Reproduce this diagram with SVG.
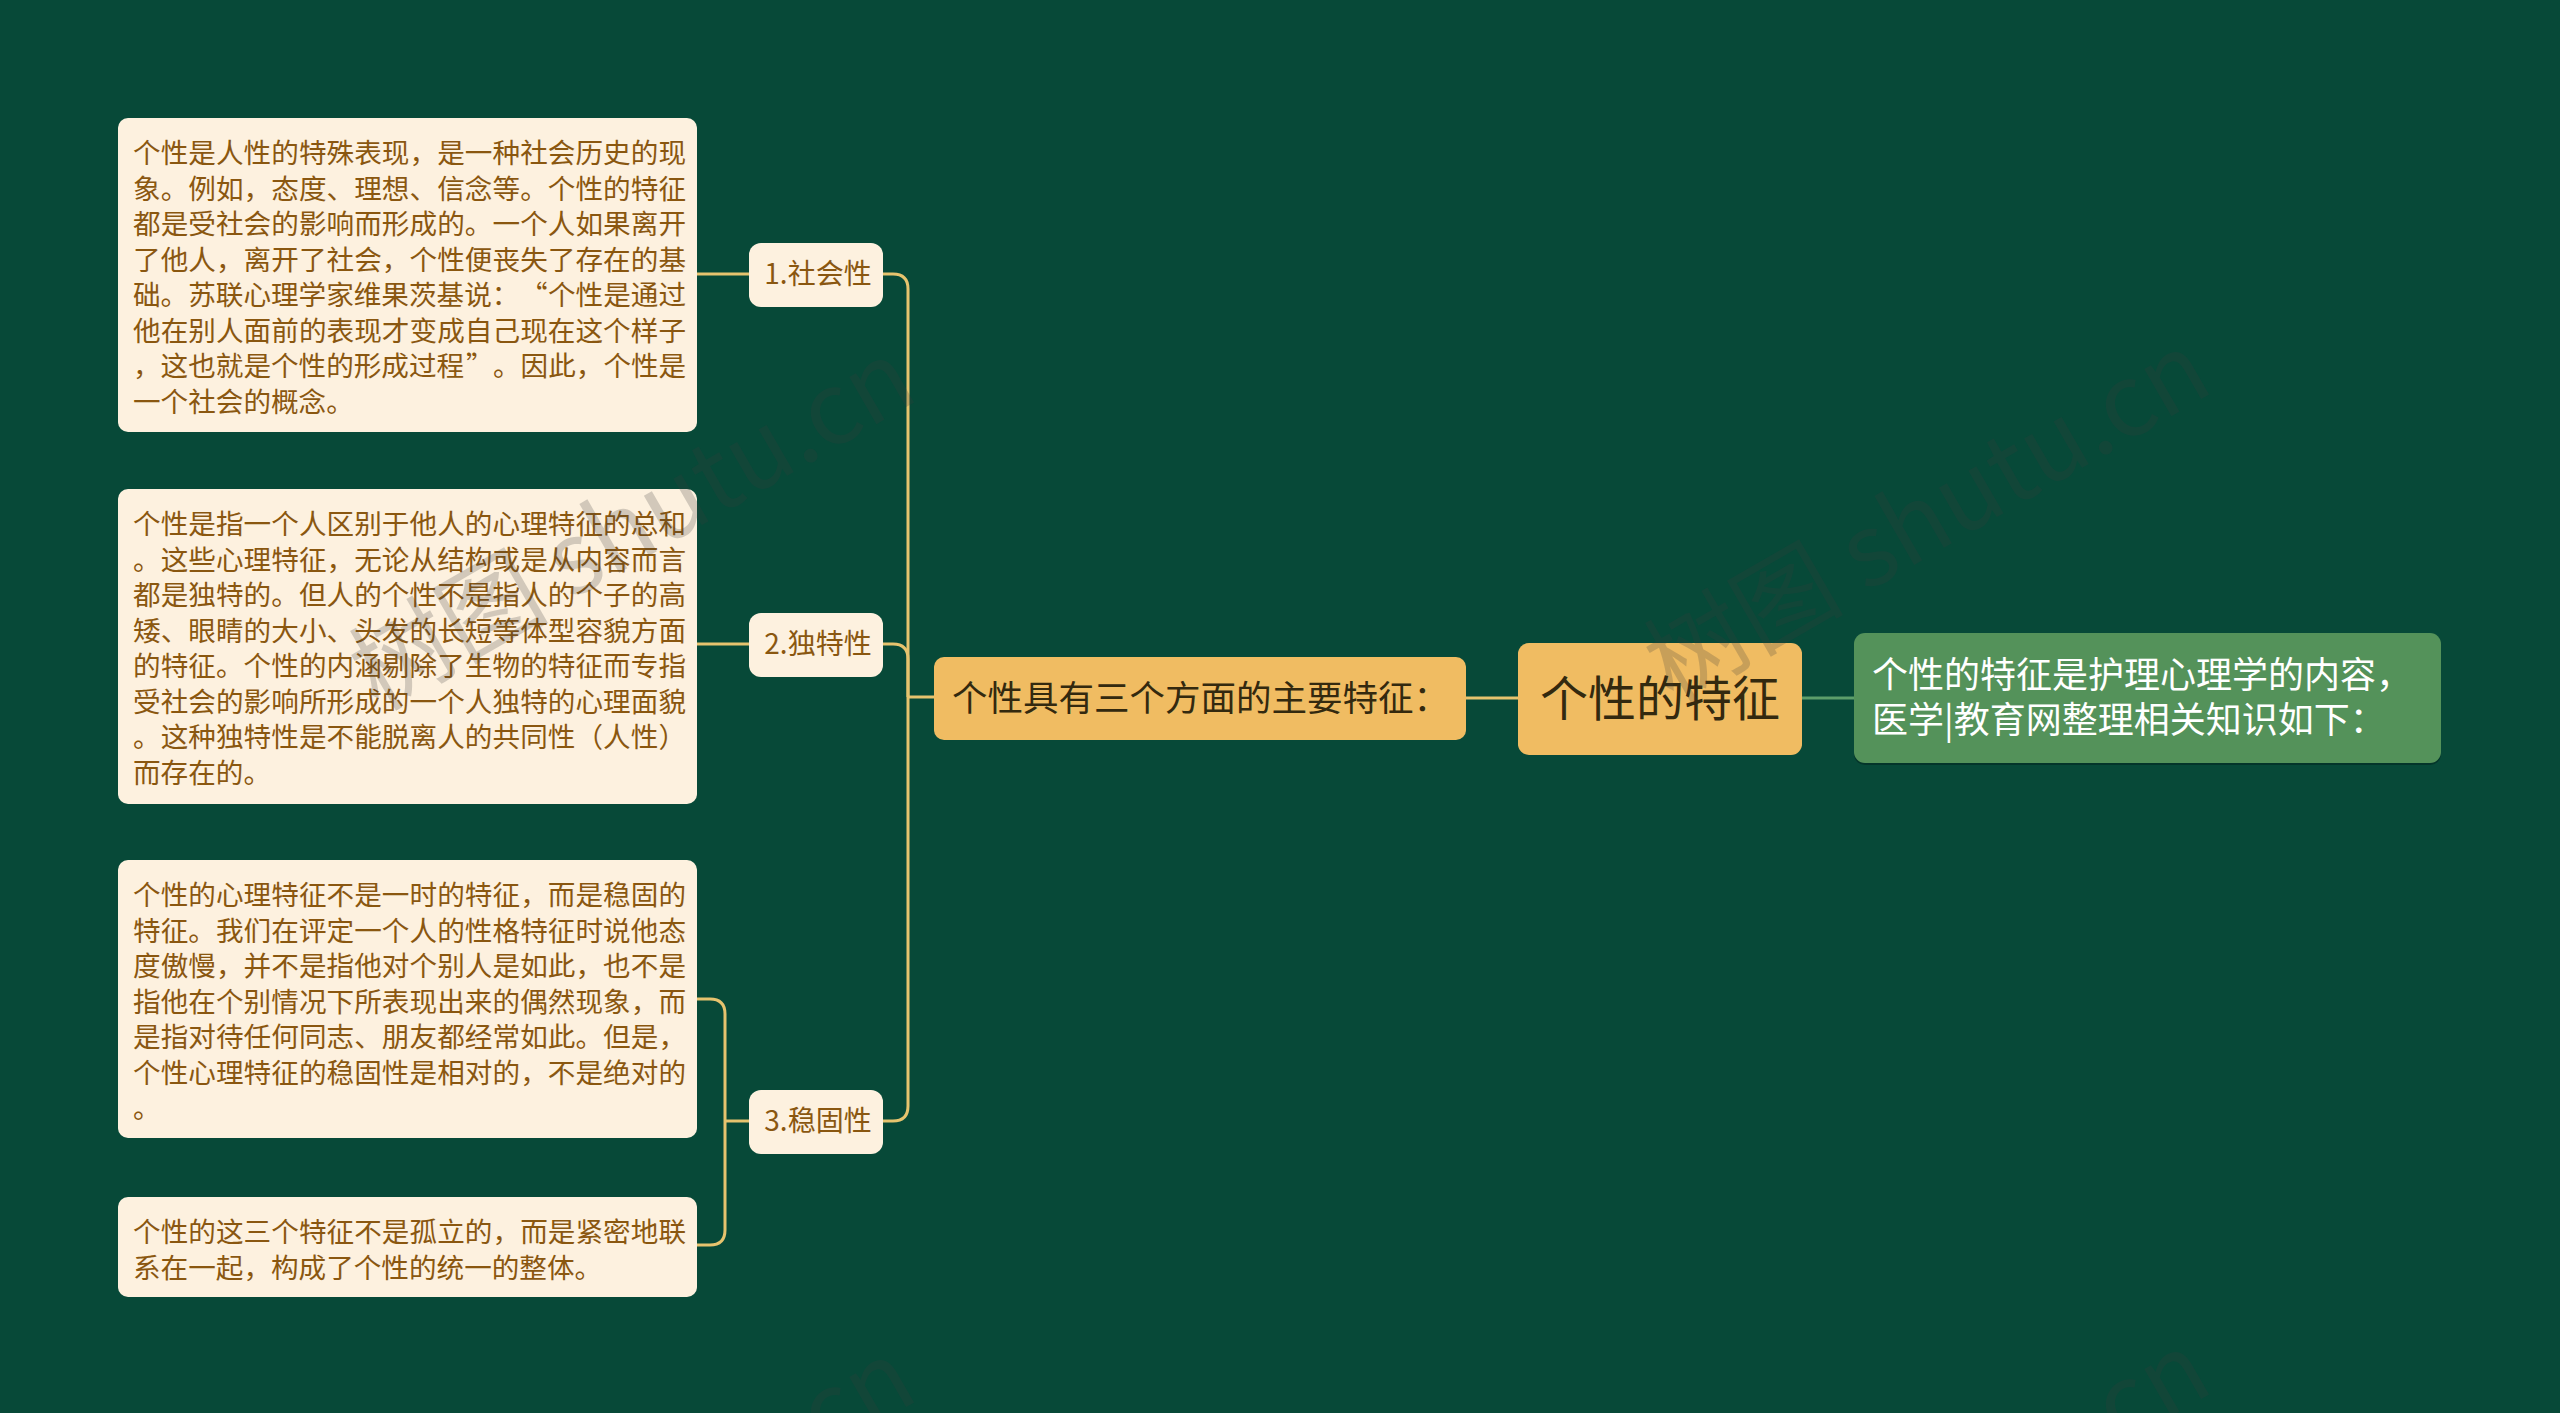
<svg xmlns="http://www.w3.org/2000/svg" width="2560" height="1413" viewBox="0 0 2560 1413">
<defs>
<style>
.bg{fill:#074938}
.leaf rect{fill:#fdf1df}
.leaf text{font-family:"Noto Sans CJK SC","Noto Sans",sans-serif;font-size:27.6px;fill:#8a5710}
.lbl rect{fill:#fdf1df}
.lbl text{font-family:"Noto Sans CJK SC","Noto Sans",sans-serif;font-size:28px;fill:#8a5710;text-anchor:middle}
.sh{fill:#04352a}
.gold rect{fill:#f0bc62}
.dark{font-family:"Noto Sans CJK SC","Noto Sans",sans-serif;fill:#33290f}
.conn path{fill:none;stroke:#e6c36e;stroke-width:3}
.conn path.g{stroke:#5c9e6a}
.wm{font-family:"Noto Sans CJK SC","Noto Sans",sans-serif;font-size:100px;fill:#3c3c3c;opacity:0.22}
</style>
</defs>
<rect class="bg" x="0" y="0" width="2560" height="1413"/>

<g id="connectors" class="conn">
<path d="M1518 698 H1466"/>
<path class="g" d="M1802 698 H1854"/>
<path d="M934 697 H908"/>
<path d="M908 697 V289 Q908 274 893 274 H883"/>
<path d="M908 697 V659 Q908 644 893 644 H883"/>
<path d="M908 697 V1106 Q908 1121 893 1121 H883"/>
<path d="M749 274 H697"/>
<path d="M749 644 H697"/>
<path d="M749 1121 H725"/>
<path d="M725 1121 V1014 Q725 999 710 999 H697"/>
<path d="M725 1121 V1230 Q725 1245 710 1245 H697"/>
</g>

<g id="root" class="gold">
<rect class="sh" x="1518" y="645" width="284" height="110" rx="11"/>
<rect x="1518" y="643" width="284" height="110" rx="11"/>
<text class="dark" x="1660" y="716" font-size="48" text-anchor="middle">个性的特征</text>
</g>

<g id="intro">
<rect class="sh" x="1854" y="635" width="587" height="130" rx="11"/>
<rect x="1854" y="633" width="587" height="130" rx="11" fill="#54925a"/>
<text x="1872" y="688" font-family="Noto Sans CJK SC, Noto Sans, sans-serif" font-size="36" fill="#ffffff">个性的特征是护理心理学的内容，</text>
<text x="1872" y="733" font-family="Noto Sans CJK SC, Noto Sans, sans-serif" font-size="36" fill="#ffffff">医学|教育网整理相关知识如下：</text>
</g>

<g id="main" class="gold">
<rect class="sh" x="934" y="659" width="532" height="81" rx="10"/>
<rect x="934" y="657" width="532" height="81" rx="10"/>
<text class="dark" x="952" y="711" font-size="35.5">个性具有三个方面的主要特征：</text>
</g>

<g id="label1" class="lbl">
<rect class="sh" x="749" y="245" width="134" height="62" rx="12"/>
<rect x="749" y="243" width="134" height="62" rx="12"/>
<text x="818" y="284">1.社会性</text>
</g>
<g id="label2" class="lbl">
<rect class="sh" x="749" y="615" width="134" height="62" rx="12"/>
<rect x="749" y="613" width="134" height="62" rx="12"/>
<text x="818" y="654">2.独特性</text>
</g>
<g id="label3" class="lbl">
<rect class="sh" x="749" y="1092" width="134" height="62" rx="12"/>
<rect x="749" y="1090" width="134" height="62" rx="12"/>
<text x="818" y="1131">3.稳固性</text>
</g>

<g id="leaf1" class="leaf">
<rect class="sh" x="118" y="120" width="579" height="312" rx="10"/>
<rect x="118" y="118" width="579" height="312" rx="10"/>
<text x="133" y="163" textLength="553">个性是人性的特殊表现，是一种社会历史的现</text>
<text x="133" y="198.5" textLength="553">象。例如，态度、理想、信念等。个性的特征</text>
<text x="133" y="234" textLength="553">都是受社会的影响而形成的。一个人如果离开</text>
<text x="133" y="269.5" textLength="553">了他人，离开了社会，个性便丧失了存在的基</text>
<text x="133" y="305"><tspan x="133">础。苏联心理学家维果茨基说：</tspan><tspan x="520">“</tspan><tspan x="548">个性是通过</tspan></text>
<text x="133" y="340.5" textLength="553">他在别人面前的表现才变成自己现在这个样子</text>
<text x="133" y="376"><tspan x="133">，这也就是个性的形成过程</tspan><tspan x="466">”</tspan><tspan x="493">。因此，个性是</tspan></text>
<text x="133" y="411.5">一个社会的概念。</text>
</g>

<g id="leaf2" class="leaf">
<rect class="sh" x="118" y="491" width="579" height="313" rx="10"/>
<rect x="118" y="489" width="579" height="313" rx="10"/>
<text x="133" y="534" textLength="553">个性是指一个人区别于他人的心理特征的总和</text>
<text x="133" y="569.5" textLength="553">。这些心理特征，无论从结构或是从内容而言</text>
<text x="133" y="605" textLength="553">都是独特的。但人的个性不是指人的个子的高</text>
<text x="133" y="640.5" textLength="553">矮、眼睛的大小、头发的长短等体型容貌方面</text>
<text x="133" y="676" textLength="553">的特征。个性的内涵剔除了生物的特征而专指</text>
<text x="133" y="711.5" textLength="553">受社会的影响所形成的一个人独特的心理面貌</text>
<text x="133" y="747" textLength="553">。这种独特性是不能脱离人的共同性（人性）</text>
<text x="133" y="782.5">而存在的。</text>
</g>

<g id="leaf3" class="leaf">
<rect class="sh" x="118" y="862" width="579" height="276" rx="10"/>
<rect x="118" y="860" width="579" height="276" rx="10"/>
<text x="133" y="905" textLength="553">个性的心理特征不是一时的特征，而是稳固的</text>
<text x="133" y="940.5" textLength="553">特征。我们在评定一个人的性格特征时说他态</text>
<text x="133" y="976" textLength="553">度傲慢，并不是指他对个别人是如此，也不是</text>
<text x="133" y="1011.5" textLength="553">指他在个别情况下所表现出来的偶然现象，而</text>
<text x="133" y="1047" textLength="553">是指对待任何同志、朋友都经常如此。但是，</text>
<text x="133" y="1082.5" textLength="553">个性心理特征的稳固性是相对的，不是绝对的</text>
<text x="133" y="1118">。</text>
</g>

<g id="leaf4" class="leaf">
<rect class="sh" x="118" y="1199" width="579" height="98" rx="10"/>
<rect x="118" y="1197" width="579" height="98" rx="10"/>
<text x="133" y="1242" textLength="553">个性的这三个特征不是孤立的，而是紧密地联</text>
<text x="133" y="1277.5">系在一起，构成了个性的统一的整体。</text>
</g>

<g id="watermark">
<text class="wm" transform="translate(378 712) rotate(-30)">树图 shutu.cn</text>
<text class="wm" transform="translate(1673 704) rotate(-30)">树图 shutu.cn</text>
<text class="wm" transform="translate(378 1712) rotate(-30)">树图 shutu.cn</text>
<text class="wm" transform="translate(1673 1704) rotate(-30)">树图 shutu.cn</text>
</g>
</svg>
